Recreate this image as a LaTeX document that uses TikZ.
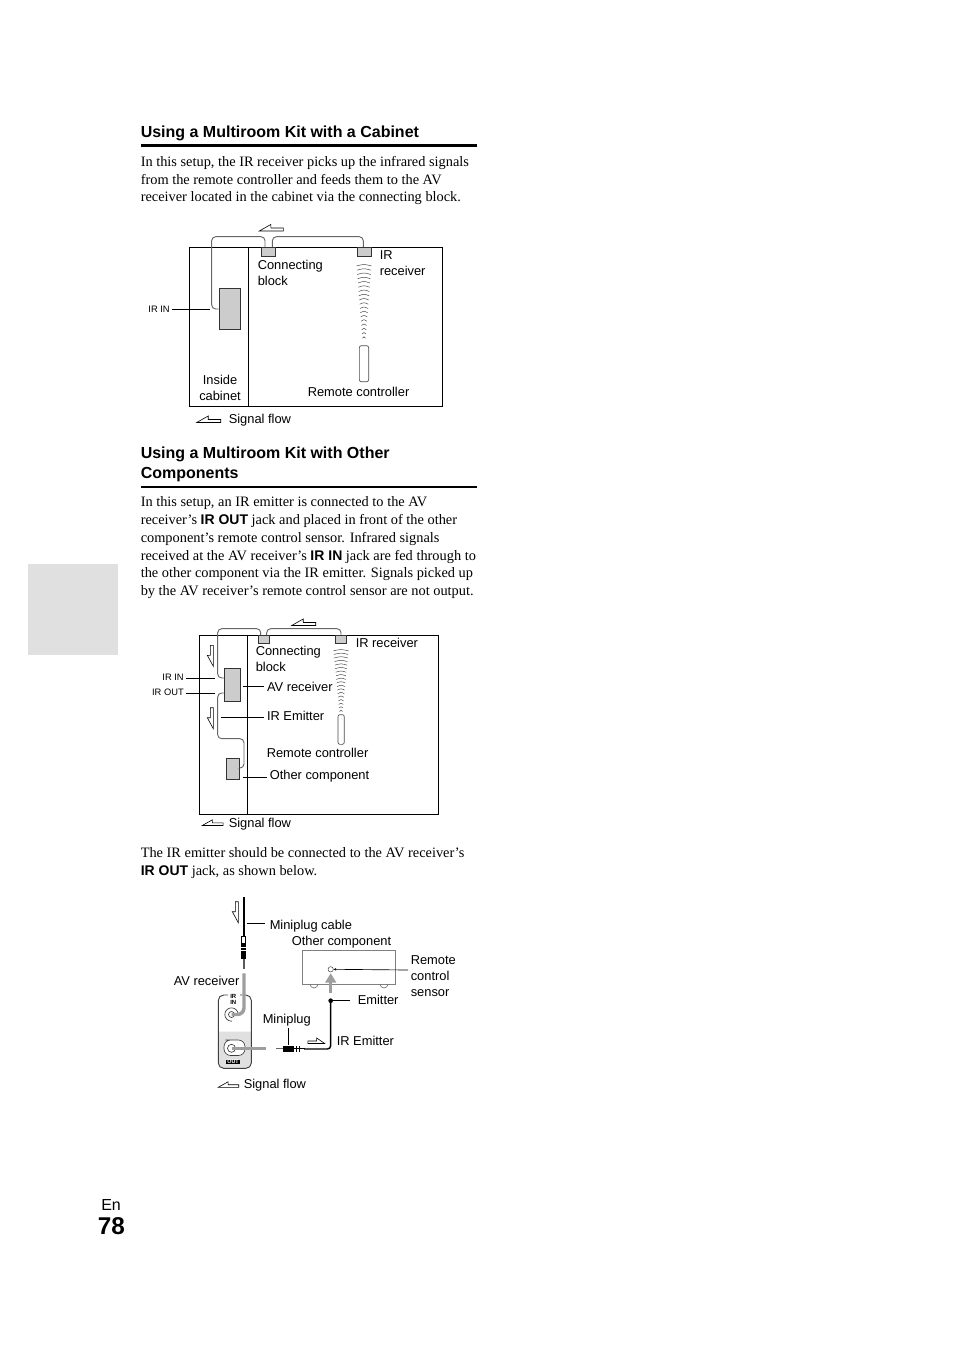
\documentclass[tikz,border=0pt]{standalone}
\usepackage{fontspec}
\setmainfont{Liberation Serif}
\setsansfont{Liberation Sans}
\usepackage{xcolor}
\usetikzlibrary{arrows.meta}
\usetikzlibrary{positioning}
\definecolor{boxgray}{gray}{0.80}
\definecolor{cablegray}{gray}{0.62}
\definecolor{tabgray}{gray}{0.88}
\newcommand{\bodyfont}{\rmfamily\fontsize{10.77}{13.35}\selectfont}
\newcommand{\headfont}{\sffamily\bfseries\fontsize{12}{15}\selectfont}
\newcommand{\inlinebold}{\sffamily\bfseries\fontsize{10.5}{12}\selectfont}
\tikzset{
  flowleft/.pic={\draw[flowline] (0,0) -- (11.5,-6.5) -- (11.5,-3) -- (24,-3) -- (24,0) -- cycle;},
  flowdown/.pic={\draw[flowline] (0,0) -- (-6,-11) -- (-3,-11) -- (-3,-21) -- (0,-21) -- cycle;},
  irwaves/.pic={
    \foreach \i in {0,...,17} {
      \pgfmathsetmacro{\w}{7.5-\i*0.35}
      \draw[waveline] (-\w,\i*4.25+1) .. controls (0,\i*4.25-1) .. (\w,\i*4.25+1);
    }
  },
}
\begin{document}
\begin{tikzpicture}[
    x=0.75pt, y=-0.75pt,
    every node/.style={inner sep=0},
    para/.style={anchor=north west, align=left, font=\bodyfont},
    headtxt/.style={anchor=mid west, align=left, font=\headfont},
    labeltxt/.style={anchor=mid west, align=left, inner sep=1.5pt, xshift=-0.75pt, yshift=-0.75pt, font=\sffamily\fontsize{9.65}{12}\selectfont},
    smalltxt/.style={anchor=mid east, inner sep=1.5pt, font=\sffamily\fontsize{7}{8}\selectfont},
    frame/.style={draw=black, line width=0.6pt},
    unitbox/.style={draw=black!80, fill=boxgray, line width=0.6pt},
    leader/.style={draw=black, line width=0.5pt},
    cable/.style={draw=black!60, line width=0.7pt, rounded corners=3pt},
    flowline/.style={draw=black, fill=white, line width=0.45pt},
    waveline/.style={draw=black!75, line width=0.35pt},
    heavygray/.style={draw=cablegray, line width=2.6pt},
    heavyblack/.style={draw=black, line width=1.1pt, rounded corners=2.5pt},
    jackline/.style={draw=black!75, line width=0.5pt},
  ]
  \useasboundingbox (0,0) rectangle (954,1351);

  % Side tab and page number
  \node[fill=tabgray, minimum width=67.5pt, minimum height=68.25pt, anchor=north west] (sidetab) at (28,564) {};
  \node[anchor=mid west, font=\sffamily\fontsize{12}{14}\selectfont] (lang) at (101,1207) {En};
  \node[anchor=mid west, font=\sffamily\bfseries\fontsize{18.2}{22}\selectfont] (pagenum) at (97.5,1231) {78};

  % Text of the page
  \node[headtxt] (headA) at (140.5,134) {Using a Multiroom Kit with a Cabinet};
  \fill (140.5,144) rectangle (477,146.8);
  \node[para] (paraA) at (140.5,156) {In this setup, the IR receiver picks up the infrared signals\\
    from the remote controller and feeds them to the AV\\
    receiver located in the cabinet via the connecting block.};
  \node[headtxt] (headB) at (140.5,475) {Using a Multiroom Kit with Other\\Components};
  \fill (140.5,486) rectangle (477,487.6);
  \node[para] (paraB) at (140.5,496.5) {In this setup, an IR emitter is connected to the AV\\
    receiver’s {\inlinebold IR OUT} jack and placed in front of the other\\
    component’s remote control sensor. Infrared signals\\
    received at the AV receiver’s {\inlinebold IR IN} jack are fed through to\\
    the other component via the IR emitter. Signals picked up\\
    by the AV receiver’s remote control sensor are not output.};
  \node[para] (paraC) at (140.5,847.5) {The IR emitter should be connected to the AV receiver’s\\
    {\inlinebold IR OUT} jack, as shown below.};

  % First picture: cabinet
  \draw[frame] (189.7,247.3) rectangle (442.7,406);
  \draw[frame] (248.7,247.3) -- (248.7,406);
  \node[unitbox, minimum width=16.25pt, minimum height=30.75pt] (avrA) at (229.8,308.8) {};
  \node[unitbox, minimum width=10.5pt, minimum height=6.75pt] (blockA) at (268.7,251.8) {};
  \node[unitbox, minimum width=10.25pt, minimum height=6.75pt] (recvA) at (364.2,251.8) {};
  \node[draw=black!70, fill=white, line width=0.5pt, rounded corners=1.5pt, minimum width=7pt, minimum height=27pt] (remoteA) at (364,363.7) {};
  \coordinate (lineA) at (210,309);
  \draw[cable] (blockA.north) ++(-3.7,0) |- (211.7,236.7) |- (avrA.west |- lineA);
  \draw[cable] (blockA.north) ++(3.7,0) |- (363.3,236.7) -- (recvA.north -| 363.3,0);
  \pic at (364,265) {irwaves};
  \pic at (259.3,231) {flowleft};
  \node[smalltxt] (irinA) at (172,309) {IR IN};
  \draw[leader] (irinA.east |- lineA) -- (lineA);
  \node[labeltxt] (blockAtxt) at (256.5,281) {Connecting\\block};
  \node[labeltxt] (recvAtxt) at (378.5,271) {IR\\receiver};
  \node[labeltxt, align=center, anchor=center] (cabtxt) at (221,386.5) {Inside\\cabinet};
  \node[labeltxt] (remoteAtxt) at (306.5,392) {Remote controller};
  \pic at (196.7,422.5) {flowleft};
  \node[labeltxt] (flowAtxt) at (227.5,419) {Signal flow};

  % Second picture: other components
  \draw[frame] (199.3,635.3) rectangle (438.3,814);
  \draw[frame] (247.3,635.3) -- (247.3,814);
  \node[unitbox, minimum width=12.25pt, minimum height=24.5pt] (avrB) at (232.5,685) {};
  \node[unitbox, minimum width=10.25pt, minimum height=16pt] (otherB) at (232.8,768.7) {};
  \node[unitbox, minimum width=8pt, minimum height=6pt] (blockB) at (264,639.3) {};
  \node[unitbox, minimum width=8.5pt, minimum height=6pt] (recvB) at (341,639.3) {};
  \node[draw=black!70, fill=white, line width=0.5pt, rounded corners=1.5pt, minimum width=4.75pt, minimum height=22.25pt] (remoteB) at (341.1,729.5) {};
  \coordinate (lineIn) at (215,678);
  \coordinate (lineOut) at (215,693);
  \draw[cable] (blockB.north) ++(-3.3,0) |- (217.7,628.7) |- (avrB.west |- lineIn);
  \draw[cable] (blockB.north) ++(2.7,0) |- (341,628.7) -- (recvB.north);
  \draw[cable] (avrB.west |- lineOut) -| (217.7,738.7) -| (244,768) -- (otherB.east |- 0,768);
  \pic[yscale=0.84] at (341,650) {irwaves};
  \pic at (291.7,625.5) {flowleft};
  \pic at (213.3,666.3) {flowdown};
  \pic at (213.3,728.7) {flowdown};
  \node[smalltxt] (irinB) at (186,677) {IR IN};
  \node[smalltxt] (iroutB) at (186,692.5) {IR OUT};
  \draw[leader] (irinB.east |- lineIn) -- (lineIn);
  \draw[leader] (iroutB.east |- lineOut) -- (lineOut);
  \node[labeltxt] (blockBtxt) at (254.5,667) {Connecting\\block};
  \node[labeltxt] (recvBtxt) at (354.5,643) {IR receiver};
  \node[labeltxt] (avrBtxt) at (265.75,687) {AV receiver};
  \node[labeltxt] (emitBtxt) at (265.75,716) {IR Emitter};
  \node[labeltxt] (remoteBtxt) at (265.5,753) {Remote controller};
  \node[labeltxt] (otherBtxt) at (268.5,775) {Other component};
  \draw[leader, shorten >=0.75pt] (243.3,686.7) -- (avrBtxt.west |- 0,686.7);
  \draw[leader, shorten >=0.75pt] (221,717.3) -- (emitBtxt.west |- 0,717.3);
  \draw[leader, shorten >=0.75pt] (243.3,777.7) -- (otherBtxt.west |- 0,777.7);
  \pic[scale=0.87] at (202.3,825.5) {flowleft};
  \node[labeltxt] (flowBtxt) at (227.5,823) {Signal flow};

  % Third picture: wiring of the jacks
  \fill[tabgray] (218.3,1031.7) -- (251.3,1031.7) -- (251.3,1064) [rounded corners=4pt] -- (251.3,1068.3) -- (218.3,1068.3) [sharp corners] -- cycle;
  \draw[jackline, line width=0.7pt, rounded corners=4pt] (228,995) -- (218.3,995) -- (218.3,1068.3) -- (251.3,1068.3) -- (251.3,995) -- (240,995);
  \node[circle, jackline, fill=white, minimum size=10pt] (jackIn) at (231.5,1014.5) {};
  \fill[white] (231.5,1014.5) rectangle (239,1022);
  \node[circle, jackline, minimum size=4.5pt] (jackInCore) at (231.5,1014.5) {};
  \draw[jackline, fill=white, rounded corners=5pt] (245,1040) -- (232,1040) -- (224,1040) -- (224,1055.5) -- (245,1055.5) -- cycle;
  \node[circle, jackline, minimum size=6pt] (jackOut) at (231.5,1048.3) {};
  \node[font=\sffamily\bfseries\fontsize{4.5}{4.8}\selectfont, align=center] (jackInTxt) at (233.3,999.5) {IR\\IN};
  \node[fill=black, text=white, font=\sffamily\bfseries\fontsize{4}{4}\selectfont, minimum width=11pt, minimum height=3.2pt] (jackOutTxt) at (233,1062) {OUT};
  \coordinate (topEnd) at (243.8,897.3);
  % plug of the upper cable
  \node[draw=black, fill=white, line width=0.5pt, minimum width=3pt, minimum height=5pt] (collar) at (243.8,939.5) {};
  \node[fill=black, minimum width=4pt, minimum height=12pt] (plugUp) at (243.8,951) {};
  \fill[white] (241,947) rectangle (246.6,947.8);
  \fill[white] (241,950.4) rectangle (246.6,951.2);
  \draw[black!65, line width=1.4pt] (plugUp.south) -- ++(0,10);
  \draw[line width=1.3pt] (topEnd) -- (collar.north);
  \draw[heavygray, rounded corners=5pt] (244,973.3) |- (jackIn.center);
  \draw[heavygray] (jackOut.center) -- (266,1048.3);
  % plug of the emitter
  \node[fill=black, minimum width=8pt, minimum height=4.5pt] (plugOut) at (288.5,1048.7) {};
  \draw[black!60, line width=0.8pt] (276,1048.7) -- (plugOut.west);
  \draw[line width=0.5pt] (plugOut.east) -- (305,1048.7);
  \fill (296,1045.8) rectangle (297.3,1051.6);
  \fill (298.5,1045.8) rectangle (299.8,1051.6);
  \node[circle, fill=black, minimum size=3.5pt] (emitDot) at (330.7,1000.7) {};
  \draw[heavyblack] (304,1049) -| (emitDot.center);
  % other component
  \node[draw=black!50, line width=0.8pt, minimum width=69.75pt, minimum height=25pt] (otherC) at (348.7,967.4) {};
  \draw[black!55, line width=0.5pt] (310,984) arc[start angle=180, end angle=0, radius=4];
  \draw[black!55, line width=0.5pt] (380,984) arc[start angle=180, end angle=0, radius=4];
  \node[draw=black!70, circle, minimum size=4pt, line width=0.4pt] (sensor) at (330.7,969.3) {};
  \draw[-{Triangle[length=7pt,width=8pt]}, draw=cablegray, line width=2pt] (330.7,993) -- (330.7,973.2);
  \node[labeltxt] (mcabletxt) at (268.5,925) {Miniplug cable};
  \node[labeltxt] (otherCtxt) at (290.5,941) {Other component};
  \node[labeltxt] (sensortxt) at (409.5,992) {Remote\\control\\sensor};
  \node[labeltxt] (emitCtxt) at (356.5,1000) {Emitter};
  \node[labeltxt] (avrCtxt) at (172.5,981) {AV receiver};
  \node[labeltxt] (mplugtxt) at (261.5,1019) {Miniplug};
  \node[labeltxt] (irCtxt) at (335.5,1041) {IR Emitter};
  \node[labeltxt] (flowCtxt) at (242.5,1084) {Signal flow};
  \draw[leader] (247.3,923.3) -- (265,923.3);
  \draw[leader, -{Stealth[length=2pt,width=2pt]}] (408,970) -- (sensor.east);
  \draw[leader] (emitDot.east) -- (350,1000.7);
  \draw[leader] (mplugtxt.south -| plugOut.north) -- (plugOut.north);
  \pic at (238.3,922.7) {flowdown};
  \pic[xscale=-0.7, yscale=0.85] at (324.7,1043.5) {flowleft};
  \pic[scale=0.85] at (218.3,1087.3) {flowleft};
\end{tikzpicture}
\end{document}
